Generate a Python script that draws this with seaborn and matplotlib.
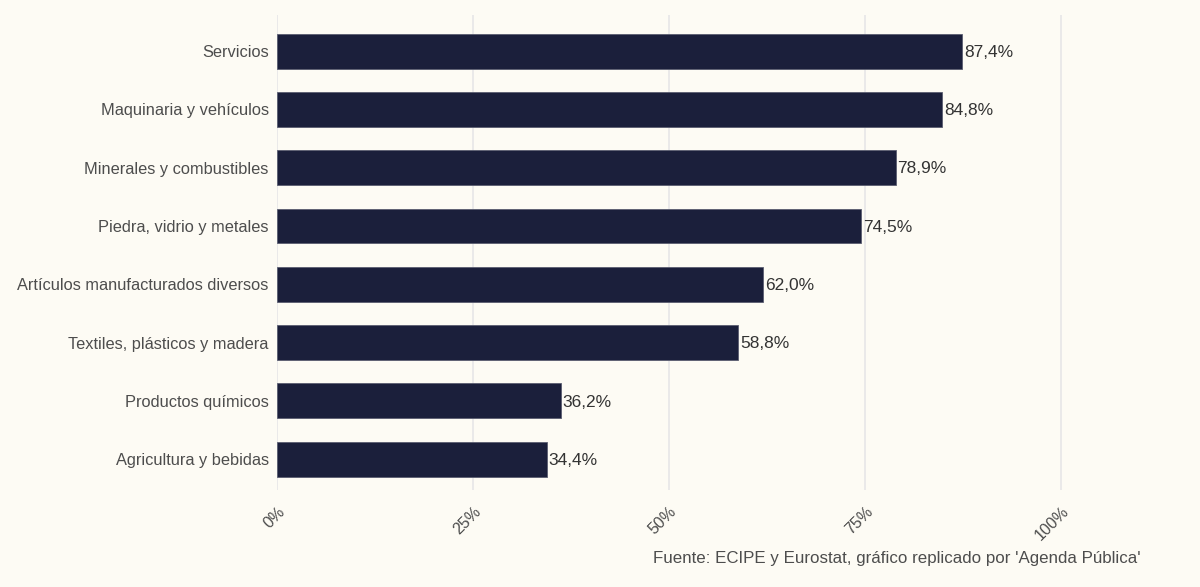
import pandas as pd
import seaborn as sns
import matplotlib.pyplot as plt

sectores = ["Servicios", "Maquinaria y vehículos", "Minerales y combustibles",
            "Piedra, vidrio y metales", "Artículos manufacturados diversos",
            "Textiles, plásticos y madera", "Productos químicos", "Agricultura y bebidas"]
valores = [87.4, 84.8, 78.9, 74.5, 62.0, 58.8, 36.2, 34.4]
ticks = [0, 25, 50, 75, 100]

df = pd.DataFrame({"sector": sectores, "valor": valores})

bg = "#fdfbf4"
sns.set_style("white")
plt.rcParams["font.family"] = ["Liberation Sans", "DejaVu Sans"]

fig = plt.figure(figsize=(12, 5.87), dpi=100, facecolor=bg)
ax = fig.add_axes([0.2308, 0.1652, 0.7200, 0.8092], facecolor=bg)

sns.barplot(data=df, x="valor", y="sector", color="#1b1f3b", width=0.6,
            edgecolor="#5a5d70", linewidth=0.6, saturation=1, ax=ax, zorder=3)

for i, v in enumerate(valores):
    ax.text(v + 0.25, i + 0.02, f"{v:.1f}%".replace(".", ","), va="center", ha="left",
            fontsize=12.5, color="#333333", zorder=4)

ax.set_xlim(0, 110.2)
ax.set_ylim(7.53, -0.62)
ax.set_xticks(ticks)
ax.set_xticklabels([f"{t}%" for t in ticks], rotation=45, ha="right",
                   rotation_mode="anchor", fontsize=11.5, color="#4d4d4d")
ax.tick_params(axis="y", labelsize=11.75, labelcolor="#4d4d4d", length=0, pad=6)
ax.tick_params(axis="x", length=0, pad=10)
ax.grid(axis="x", color="#e8e8e8", linewidth=1.3, zorder=0)
ax.grid(axis="y", visible=False)
for s in ax.spines.values():
    s.set_visible(False)
ax.set_xlabel("")
ax.set_ylabel("")

fig.text(1141 / 1200, 1 - 558 / 587, "Fuente: ECIPE y Eurostat, gráfico replicado por 'Agenda Pública'",
         ha="right", va="center", fontsize=12.2, color="#4d4d4d")

fig.savefig("out.png", dpi=100, facecolor=bg)
